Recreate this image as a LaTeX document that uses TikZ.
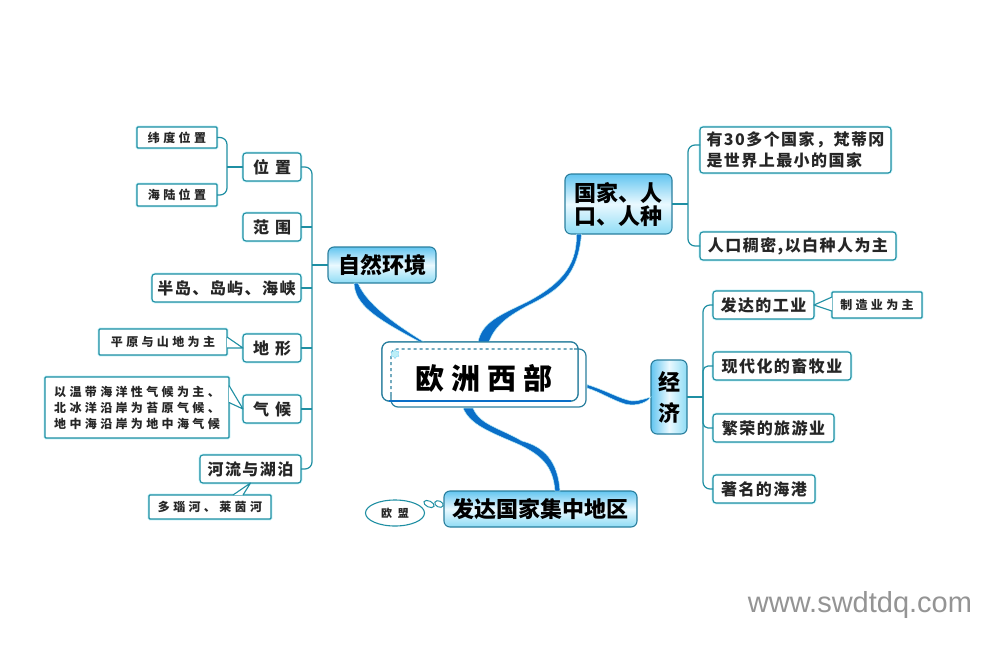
\documentclass[tikz,border=0pt]{standalone}
\usepackage{fontspec}
\setmainfont{Noto Sans CJK SC}
\newfontfamily\wmfont{Liberation Sans}
\usetikzlibrary{shapes.geometric}
\definecolor{edgeteal}{HTML}{1F8FA3}
\definecolor{glow}{HTML}{BDEFF7}
\definecolor{topborder}{HTML}{2A7F9E}
\definecolor{branchblue}{HTML}{0A6FC8}
\definecolor{inkdark}{HTML}{262626}
\definecolor{gradtop}{HTML}{63C5F0}
\definecolor{gradmid}{HTML}{EAF9FF}
\definecolor{gradbot}{HTML}{8FDCF5}
\newcommand{\gp}{\hspace{6pt}}
\tikzset{
  boxbase/.style={draw=edgeteal,line width=1.1pt,fill=white,inner sep=0pt,outer sep=0pt,align=center,text=inkdark,
    preaction={draw=glow,line width=2.6pt}},
  leafbox/.style={boxbase,rounded corners=3pt,font=\fontsize{16}{18}\selectfont\bfseries\addfontfeature{LetterSpace=9}},
  smallbox/.style={boxbase,rounded corners=1pt,font=\fontsize{12}{16}\selectfont\bfseries\addfontfeature{LetterSpace=28}},
  topbox/.style={draw=topborder,line width=1.1pt,rounded corners=6pt,inner sep=0pt,outer sep=0pt,align=center,text=black,
    top color=gradtop,bottom color=gradbot,middle color=gradmid,
    font=\fontsize{22}{23}\selectfont\bfseries},
  conn/.style={draw=edgeteal,line width=1.2pt,rounded corners=7pt},
  wedge/.style={draw=edgeteal,line width=1.1pt,fill=white,line join=round},
  branch/.style={fill=branchblue,draw=glow,line width=0.5pt},
  cframe/.style={rounded corners=7pt,inner sep=0pt,outer sep=0pt,line width=1.2pt},
}
\begin{document}
\begin{tikzpicture}[x=1pt,y=-1pt]
\fill[white,use as bounding box] (0,0) rectangle (1002,649);

% thick branches (behind boxes)
\node[cframe,draw=topborder,minimum width=196pt,minimum height=59pt] (cen) at (480,371.5) {};
\node[topbox,minimum width=108pt,minimum height=36pt] (zr) at (382,265) {自然环境};
\node[topbox,minimum width=107pt,minimum height=60pt] (gj) at (618.5,204) {国家、人\\[0pt]口、人种};
\node[topbox,minimum width=193pt,minimum height=36pt] (fd) at (540.5,509) {发达国家集中地区};
\node[topbox,minimum width=36pt,minimum height=74pt,shading angle=90,font=\fontsize{22}{31}\selectfont\bfseries] (jj) at (669,397) {经\\济};

\path[branch] ([xshift=-42pt]gj.south) .. controls (577,262) and (565,282) .. (527,302)
  .. controls (500,315) and (482,322) .. ([xshift=-2pt]cen.north)
  -- ([xshift=9pt]cen.north) .. controls (495,325) and (510,315) .. (529,305)
  .. controls (560,290) and (578,275) .. ([xshift=-37pt]gj.south) -- cycle;
\path[branch] ([xshift=-28pt]zr.south) .. controls (355,305) and (375,318) .. ([xshift=-60pt]cen.north)
  -- ([xshift=-56pt]cen.north) .. controls (385,318) and (365,300) .. ([xshift=-24pt]zr.south) -- cycle;
\path[branch] (463,408) .. controls (470,425) and (490,432) .. (520,445)
  .. controls (540,455) and (553,465) .. ([xshift=14.5pt]fd.north)
  -- ([xshift=19.5pt]fd.north) .. controls (558,462) and (545,447) .. (522,441)
  .. controls (500,428) and (480,425) .. (473,408) -- cycle;
\path[branch] ([yshift=-13pt]cen.east) ++(9,0) .. controls (610,392) and (620,399) .. (632,401)
  .. controls (640,401) and (647,398) .. (jj.west)
  .. controls (645,405) and (632,406) .. (625,404)
  .. controls (612,400) and (600,392) .. (587,388) -- cycle;

% central frames redrawn above branches
\node[cframe,draw=topborder,fill=white,minimum width=196pt,minimum height=59pt] (cenf) at (480,371.5) {};
\node[inner sep=0pt,outer sep=0pt,minimum width=195pt,minimum height=58pt] (cenb) at (488.5,378) {};
\draw[topborder,line width=1.2pt,rounded corners=7pt] ([xshift=-12pt]cenb.north east) -- (cenb.north east) -- (cenb.south east) -- (cenb.south west) -- ([yshift=12pt]cenb.south west);
\draw[branchblue,line width=1.3pt] (389,401) -- (571,401);
\draw[topborder,line width=1.1pt,dashed,rounded corners=6pt] ([yshift=12pt]cenb.south west) -- (cenb.north west) -- ([xshift=-12pt]cenb.north east);
\node[star,star points=6,fill=glow,draw=cyan!50,inner sep=0pt,minimum size=9pt] (starmark) at (395,354) {};
\node[font=\fontsize{29}{31}\selectfont\bfseries,text=black] (cent) at (484,378) {欧\hspace{7pt}洲\hspace{7pt}西\hspace{7pt}部};

% left side
\node[leafbox,minimum width=58pt,minimum height=28pt] (wz) at (272,167) {位\gp 置};
\node[leafbox,minimum width=58pt,minimum height=28pt] (fw) at (272,227) {范\gp 围};
\node[leafbox,minimum width=149pt,minimum height=28pt] (bd) at (226.5,288) {半岛、岛屿、海峡};
\node[leafbox,minimum width=58pt,minimum height=28pt] (dx) at (272,348) {地\gp 形};
\node[leafbox,minimum width=58pt,minimum height=28pt] (qh) at (272,409) {气\gp 候};
\node[leafbox,minimum width=101pt,minimum height=28pt] (hl) at (250.5,469) {河流与湖泊};
\node[smallbox,minimum width=80pt,minimum height=21pt] (wd) at (177,137.5) {纬度位置};
\node[smallbox,minimum width=80pt,minimum height=22pt] (hlw) at (177,195) {海陆位置};
\node[smallbox,minimum width=128pt,minimum height=26pt] (py) at (163,342) {平原与山地为主};
\node[smallbox,minimum width=184pt,minimum height=61pt] (wq) at (137,407.5) {以温带海洋性气候为主、\\北冰洋沿岸为苔原气候、\\地中海沿岸为地中海气候};
\node[smallbox,minimum width=122pt,minimum height=24pt] (dn) at (210,507) {多瑙河、莱茵河};

\coordinate (ltrunk) at (312,265);
\coordinate (wtrunk) at (227,167);
\draw[conn] (wz.east) -| (ltrunk) |- (hl.east);
\draw[conn] (zr.west) -- (ltrunk);
\draw[conn] (fw.east) -- (fw.east -| ltrunk);
\draw[conn] (bd.east) -- (bd.east -| ltrunk);
\draw[conn] (dx.east) -- (dx.east -| ltrunk);
\draw[conn] (qh.east) -- (qh.east -| ltrunk);
\draw[conn] (wd.east) -| (wtrunk) |- (hlw.east);
\draw[conn] (wz.west) -- (wtrunk);
\path[wedge] ([yshift=5pt]py.east) -- (dx.west) -- ([yshift=-6pt]py.east);
\path[wedge] ([yshift=22pt]wq.east) -- (qh.west) -- ([yshift=5pt]wq.east);
\path[wedge] ([xshift=23pt]dn.north) -- (hl.south) -- ([xshift=33pt]dn.north);

% EU callout
\node[draw=edgeteal,line width=1.1pt,ellipse,inner sep=0pt,minimum width=59pt,minimum height=26pt,fill=white,text=inkdark,font=\fontsize{11}{13}\selectfont\bfseries] (om) at (395,513) {欧\hspace{6pt}盟};
\node[draw=edgeteal,line width=1pt,ellipse,inner sep=0pt,minimum width=11pt,minimum height=6pt,rotate=-25] (e1) at (429,504) {};
\node[draw=edgeteal,line width=1pt,ellipse,inner sep=0pt,minimum width=9pt,minimum height=6pt,rotate=-25] (e2) at (439,504) {};

% right upper
\node[leafbox,minimum width=191pt,minimum height=46pt,align=left,font=\fontsize{16}{21}\selectfont\bfseries\addfontfeature{LetterSpace=9}] (ys) at (795.5,150) {有30多个国家，梵蒂冈\\是世界上最小的国家\hspace{19pt}};
\node[leafbox,minimum width=196pt,minimum height=28pt] (rk) at (798,246) {人口稠密,以白种人为主};
\coordinate (gtrunk) at (688,204);
\draw[conn] (gj.east) -- (gtrunk);
\draw[conn] ([yshift=5pt]ys.west) -| (gtrunk) |- (rk.west);

% right lower
\node[leafbox,minimum width=101pt,minimum height=28pt] (gy) at (763.5,305) {发达的工业};
\node[leafbox,minimum width=138pt,minimum height=28pt] (xd) at (782,366) {现代化的畜牧业};
\node[leafbox,minimum width=121pt,minimum height=28pt] (fr) at (773.5,428) {繁荣的旅游业};
\node[leafbox,minimum width=102pt,minimum height=28pt] (zm) at (764,489) {著名的海港};
\node[smallbox,minimum width=90pt,minimum height=26pt] (zz) at (877,305) {制造业为主};
\coordinate (jtrunk) at (703,397);
\draw[conn] (jj.east) -- (jtrunk);
\draw[conn] (gy.west) -| (jtrunk) |- (zm.west);
\draw[conn,rounded corners=5pt] (xd.west) -| (jtrunk);
\draw[conn,rounded corners=5pt] (fr.west) -| (jtrunk);
\path[wedge] ([yshift=8pt]zz.west) -- (gy.east) -- ([yshift=-6pt]zz.west);

\node[text=black!42,font=\wmfont\fontsize{29}{30}\selectfont] (wm) at (860,605) {www.swdtdq.com};
\end{tikzpicture}
\end{document}
